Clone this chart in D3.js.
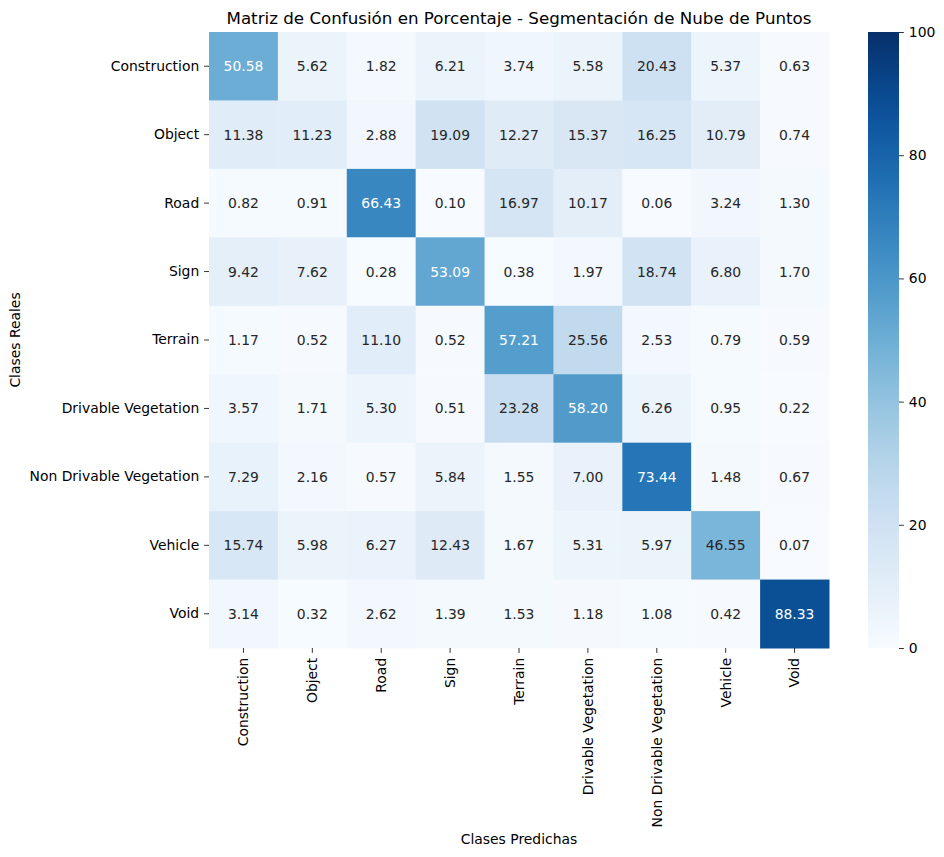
<!DOCTYPE html>
<html><head><meta charset="utf-8">
<script src="https://cdn.jsdelivr.net/npm/d3@7"></script>
<style>body{margin:0;background:#fff}svg{font-family:"DejaVu Sans",sans-serif}</style>
</head><body>
<script>
const classes = ["Construction","Object","Road","Sign","Terrain","Drivable Vegetation","Non Drivable Vegetation","Vehicle","Void"];
const rowConstruction = [50.58,5.62,1.82,6.21,3.74,5.58,20.43,5.37,0.63];
const rowObject = [11.38,11.23,2.88,19.09,12.27,15.37,16.25,10.79,0.74];
const rowRoad = [0.82,0.91,66.43,0.10,16.97,10.17,0.06,3.24,1.30];
const rowSign = [9.42,7.62,0.28,53.09,0.38,1.97,18.74,6.80,1.70];
const rowTerrain = [1.17,0.52,11.10,0.52,57.21,25.56,2.53,0.79,0.59];
const rowDrivable = [3.57,1.71,5.30,0.51,23.28,58.20,6.26,0.95,0.22];
const rowNonDrivable = [7.29,2.16,0.57,5.84,1.55,7.00,73.44,1.48,0.67];
const rowVehicle = [15.74,5.98,6.27,12.43,1.67,5.31,5.97,46.55,0.07];
const rowVoid = [3.14,0.32,2.62,1.39,1.53,1.18,1.08,0.42,88.33];
const colorbarTicks = [0,20,40,60,80,100];
const titleText = "Matriz de Confusión en Porcentaje - Segmentación de Nube de Puntos";

const matrix = [rowConstruction,rowObject,rowRoad,rowSign,rowTerrain,rowDrivable,rowNonDrivable,rowVehicle,rowVoid];
const W = 944, H = 857;
const L = 209, R = 829, T = 32, B = 648;
const svg = d3.select("body").append("svg").attr("width",W).attr("height",H);

const x = d3.scaleBand().domain(classes).range([L,R]);
const y = d3.scaleBand().domain(classes).range([T,B]);
const color = d3.scaleSequential(d3.interpolateBlues).domain([0,100]);

const cells = [];
matrix.forEach((row,i)=>row.forEach((v,j)=>cells.push({r:classes[i],c:classes[j],v})));

svg.append("g").selectAll("rect").data(cells).join("rect")
  .attr("x",d=>x(d.c)).attr("y",d=>y(d.r))
  .attr("width",x.bandwidth()+0.5).attr("height",y.bandwidth()+0.5)
  .attr("fill",d=>color(d.v));

function lum(c){
  const rgb = d3.rgb(c);
  const f = u=>{u/=255;return u<=0.03928?u/12.92:Math.pow((u+0.055)/1.055,2.4);};
  return 0.2126*f(rgb.r)+0.7152*f(rgb.g)+0.0722*f(rgb.b);
}
svg.append("g").selectAll("text").data(cells).join("text")
  .attr("x",d=>x(d.c)+x.bandwidth()/2).attr("y",d=>y(d.r)+y.bandwidth()/2)
  .attr("text-anchor","middle").attr("dominant-baseline","central")
  .attr("font-size","13.9px")
  .attr("fill",d=>lum(color(d.v))<0.408?"#ffffff":"#262626")
  .text(d=>d.v.toFixed(2));

const fs = "13.9px";
const xAxis = svg.append("g").attr("transform",`translate(0,${B})`)
  .call(d3.axisBottom(x).tickSize(4.9).tickPadding(4.9));
xAxis.select(".domain").remove();
xAxis.selectAll("text").attr("font-size",fs).attr("fill","#000")
  .attr("transform","rotate(-90)").attr("text-anchor","end")
  .attr("x",-9.8).attr("y",0).attr("dy","0.35em").style("font-family","DejaVu Sans");
xAxis.selectAll("line").attr("stroke","#000").attr("stroke-width",0.8);

const yAxis = svg.append("g").attr("transform",`translate(${L},0)`)
  .call(d3.axisLeft(y).tickSize(4.9).tickPadding(4.9));
yAxis.select(".domain").remove();
yAxis.selectAll("text").attr("font-size",fs).attr("fill","#000").style("font-family","DejaVu Sans");
yAxis.selectAll("line").attr("stroke","#000").attr("stroke-width",0.8);

// colorbar
const CL = 868, CR = 899;
const defs = svg.append("defs");
const grad = defs.append("linearGradient").attr("id","cb").attr("x1",0).attr("y1",1).attr("x2",0).attr("y2",0);
d3.range(0,1.0001,0.05).forEach(t=>grad.append("stop").attr("offset",t).attr("stop-color",color(t*100)));
svg.append("rect").attr("x",CL).attr("y",T).attr("width",CR-CL).attr("height",B-T).attr("fill","url(#cb)");
const cy = d3.scaleLinear().domain([0,100]).range([B,T]);
const cAxis = svg.append("g").attr("transform",`translate(${CR},0)`)
  .call(d3.axisRight(cy).tickValues(colorbarTicks).tickSize(4.9).tickPadding(4.9));
cAxis.select(".domain").remove();
cAxis.selectAll("text").attr("font-size",fs).attr("fill","#000").style("font-family","DejaVu Sans");
cAxis.selectAll("line").attr("stroke","#000").attr("stroke-width",0.8);

svg.append("text").attr("x",(L+R)/2).attr("y",24).attr("text-anchor","middle")
  .attr("font-size","16.7px").attr("fill","#000").text(titleText);
svg.append("text").attr("x",(L+R)/2).attr("y",844).attr("text-anchor","middle")
  .attr("font-size",fs).attr("fill","#000").text("Clases Predichas");
svg.append("text").attr("transform",`translate(20,${(T+B)/2}) rotate(-90)`).attr("text-anchor","middle")
  .attr("font-size",fs).attr("fill","#000").text("Clases Reales");
</script>
</body></html>
